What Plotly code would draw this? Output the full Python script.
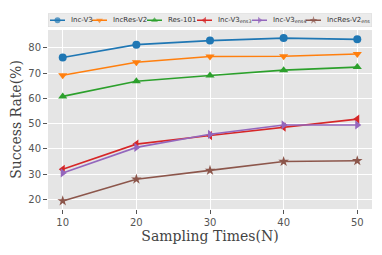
import plotly.graph_objects as go

# ---------------- data ----------------
sampling_times = [10, 20, 30, 40, 50]
series_names = ["Inc-V3", "IncRes-V2", "Res-101",
                "Inc-V3<sub>ens3</sub>", "Inc-V3<sub>ens4</sub>", "IncRes-V2<sub>ens</sub>"]
inc_v3 = [76.2, 81.3, 82.9, 83.9, 83.4]
incres_v2 = [69.2, 74.3, 76.6, 76.7, 77.6]
res_101 = [60.8, 66.8, 69.1, 71.2, 72.4]
inc_v3_ens3 = [31.9, 41.9, 45.3, 48.6, 51.8]
inc_v3_ens4 = [30.5, 40.6, 45.8, 49.5, 49.5]
incres_v2_ens = [19.4, 28.0, 31.5, 35.0, 35.3]
y_ticks = [20, 30, 40, 50, 60, 70, 80]

# ---------------- style ----------------
colors = ["#1f77b4", "#ff7f0e", "#2ca02c", "#d62728", "#9467bd", "#8c564b"]
symbols = ["circle", "triangle-down", "triangle-up", "triangle-left", "triangle-right", "star"]
sizes = [8, 8, 8, 8, 8, 8]
all_series = [inc_v3, incres_v2, res_101, inc_v3_ens3, inc_v3_ens4, incres_v2_ens]

# page body has an 8px default margin -> compensate
OFF = 8
WIN_W, WIN_H = 382, 255
W, H = WIN_W - OFF, WIN_H - OFF
plot_left, plot_right, plot_top, plot_bottom = 48, 372, 30, 209   # window px
legend_top_px, legend_bot_px = 13.5, 27                          # window px
ML = plot_left - OFF
MR = W - (plot_right - OFF)
MT = 5
MB = H - (plot_bottom - OFF)
paper_h = H - MT - MB
main_dom_top = (plot_bottom - plot_top) / paper_h
leg_dom = [(plot_bottom - legend_bot_px) / paper_h, (plot_bottom - legend_top_px) / paper_h]

fig = go.Figure()
for name, vals, c, s, sz in zip(series_names, all_series, colors, symbols, sizes):
    fig.add_trace(go.Scatter(
        x=sampling_times, y=vals, name=name, mode="lines+markers",
        line=dict(color=c, width=1.6),
        marker=dict(symbol=s, size=sz, color=c, line=dict(width=0)),
        showlegend=False, cliponaxis=False))

# ---------------- custom one-row legend (legend axes in window-pixel units) ----------------
handle_starts = [50, 92, 147, 197, 252, 306]   # px, legend layout
handle_len = 15
text_gap = 4
for name, c, s, x0 in zip(series_names, colors, symbols, handle_starts):
    fig.add_trace(go.Scatter(
        x=[x0, x0 + handle_len / 2, x0 + handle_len], y=[0.5, 0.5, 0.5],
        xaxis="x2", yaxis="y2", mode="lines+markers", showlegend=False,
        hoverinfo="skip", cliponaxis=False,
        line=dict(color=c, width=1.6),
        marker=dict(symbol=s, size=[0, 6, 0], color=c, line=dict(width=0))))
    fig.add_annotation(x=x0 + handle_len + text_gap, y=0.5, xref="x2", yref="y2",
                       text=name, showarrow=False, xanchor="left", yanchor="middle",
                       font=dict(family="DejaVu Sans", size=7, color="#333333"))

fig.add_shape(type="rect", xref="x2", yref="y2", x0=48, x1=372, y0=0, y1=1,
              fillcolor="#EBEBEB", line=dict(color="#DADADA", width=1), layer="below")

tick_font = dict(family="DejaVu Sans", size=10, color="#555555")
title_font = dict(family="DejaVu Serif", size=14, color="#444444")

fig.update_layout(
    width=W, height=H,
    margin=dict(l=ML, r=MR, t=MT, b=MB, autoexpand=False),
    paper_bgcolor="white",
    plot_bgcolor="#E5E5E5",
    xaxis=dict(
        range=[8, 52], tickvals=sampling_times, ticks="outside", ticklen=4,
        tickcolor="#555555", tickfont=tick_font, showgrid=True, gridcolor="white",
        gridwidth=1, zeroline=False, showline=False, automargin=False,
        title=dict(text="Sampling Times(N)", font=title_font, standoff=2),
        anchor="y"),
    yaxis=dict(
        range=[16.2, 87.1], tickvals=y_ticks, ticks="outside", ticklen=4,
        tickcolor="#555555", tickfont=tick_font, showgrid=True, gridcolor="white",
        gridwidth=1, zeroline=False, showline=False, domain=[0, main_dom_top],
        automargin=False,
        title=dict(text="Success Rate(%)", font=title_font, standoff=4)),
    xaxis2=dict(range=[plot_left, plot_right], domain=[0, 1], visible=False,
                anchor="y2", fixedrange=True, automargin=False),
    yaxis2=dict(range=[0, 1], domain=leg_dom, visible=False, anchor="x2",
                fixedrange=True, automargin=False),
)

fig.write_html("out.html")
